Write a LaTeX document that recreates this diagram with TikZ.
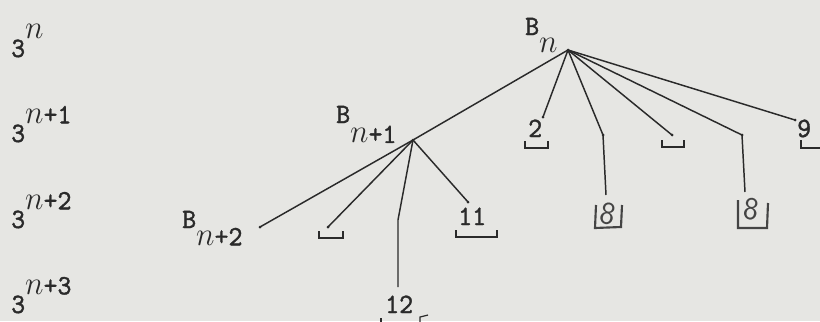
\documentclass[tikz,border=0pt]{standalone}
\usepackage{fontspec}
\usepackage{tikz}
\usetikzlibrary{calc,positioning}
\newfontfamily\typefont{lmmono10-regular.otf}[FakeBold=1.4]
\definecolor{paper}{HTML}{E6E6E3}
\definecolor{ink}{HTML}{2A2A2A}
\definecolor{pencil}{HTML}{444444}
\newcommand\nn{{\fontsize{24}{26}\selectfont$n$}}
\newcommand\pw[1]{3\raisebox{14pt}{\nn#1}}
\newcommand\bsub[2]{B\raisebox{-#1}{\nn#2}}
\newcommand\tbox[4]{\draw[brk] (#1,#2) -- (#1,#4) -- (#3,#4) -- (#3,#2);}

\begin{document}
\begin{tikzpicture}[x=0.0264cm,y=-0.0264cm,
  typed/.style={font=\typefont\fontsize{21}{24}\selectfont,text=ink,inner sep=0pt,anchor=base west,xscale=0.95},
  hand/.style={font=\sffamily\fontsize{24}{27}\selectfont,text=pencil,inner sep=0pt},
  edge/.style={ink,line width=1.1pt},
  brk/.style={ink,line width=0.9pt},
  hbrk/.style={pencil,line width=1.6pt}]
  \useasboundingbox (0,0) rectangle (820,321);
  \fill[paper] (0,0) rectangle (820,321);

  % level labels
  \node[typed] (lev0) at (11,57) {\pw{}};
  \node[typed] (lev1) at (11,142) {\pw{+1}};
  \node[typed] (lev2) at (11,228) {\pw{+2}};
  \node[typed] (lev3) at (11,313) {\pw{+3}};

  % branch points
  \coordinate (root) at (568,50);
  \coordinate (bn1) at (413,140);
  \coordinate (bn2) at (260,227);
  \node[typed] (lbln) at (525,35) {\bsub{13pt}{}};
  \node[typed] (lbln1) at (336,123) {\bsub{15pt}{+1}};
  \node[typed] (lbln2) at (182,228) {\bsub{13pt}{+2}};

  % ends of the branches
  \coordinate (e2) at (543,117);
  \coordinate (k1) at (603,135);
  \coordinate (k1e) at (606,195);
  \coordinate (gap1) at (672,135);
  \coordinate (k2) at (742,135);
  \coordinate (k2e) at (745,192);
  \coordinate (e9) at (795,120);
  \coordinate (gap2) at (328,227);
  \coordinate (k3) at (398,220);
  \coordinate (k3e) at (398,287);
  \coordinate (e11) at (468,202);

  \draw[edge] (root) -- (bn1);
  \draw[edge] (root) -- (e2);
  \draw[edge] (root) -- (k1) -- (k1e);
  \draw[edge] (root) -- (gap1);
  \draw[edge] (root) -- (k2) -- (k2e);
  \draw[edge] (root) -- (e9);
  \draw[edge] (bn1) -- (bn2);
  \draw[edge] (bn1) -- (gap2);
  \draw[edge] (bn1) -- (k3) -- (k3e);
  \draw[edge] (bn1) -- (e11);
  \foreach \p in {root,bn1,bn2,gap1,gap2,k1,k2,e2,e9,e11}
    \fill[ink] (\p) circle (1.5);

  % leaves
  \node[typed] (leaf2) at (528,137) {2};
  \tbox{525}{141}{548}{148}
  \tbox{662}{140}{684}{147}
  \node[typed] (leaf9) at (797,137) {9};
  \tbox{801}{140}{830}{148}
  \tbox{319}{231}{343}{238}
  \node[typed] (leaf11) at (458,225) {11};
  \tbox{456}{230}{497}{237}
  \node[typed] (leaf12) at (385,313) {12};
  \draw[brk] (381,318) -- (381,330);
  \draw[brk] (420,330) -- (420,317) -- (428,315);

  % pencilled eights
  \node[hand,rotate=-12] (eight1) at (608,214) {8};
  \draw[hbrk] (596,205) -- (595,228) -- (621,227) -- (622,205);
  \node[hand,rotate=-8] (eight2) at (751,209) {8};
  \draw[hbrk] (738,200) -- (738,228) -- (767,228) -- (768,203);
\end{tikzpicture}
\end{document}
